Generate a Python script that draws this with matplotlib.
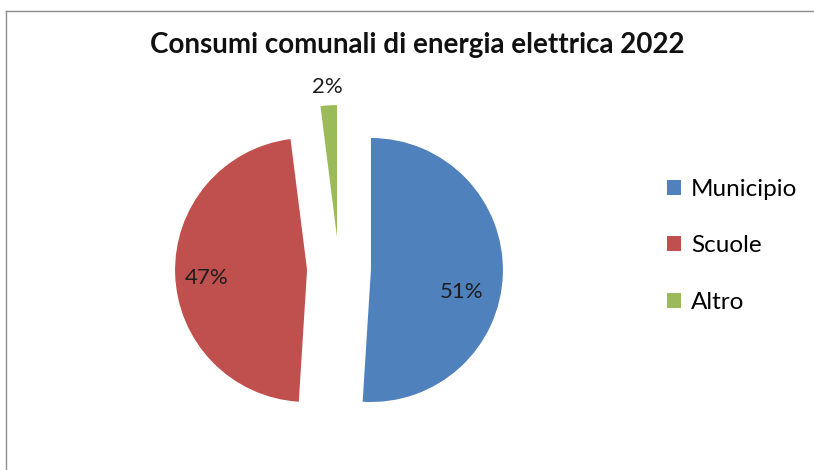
import numpy as np
import matplotlib.pyplot as plt
from matplotlib.lines import Line2D
from matplotlib.patches import Patch

# dati
labels = ["Municipio", "Scuole", "Altro"]
values = [51, 47, 2]
colors = ["#4F81BD", "#C0504D", "#9BBB59"]
explode = [0.242, 0.242, 0.242]

# posizione delle etichette: (frazione del raggio, spostamento angolare in gradi)
label_pos = [(0.71, -12), (0.76, 3), (1.14, 0)]

plt.rcParams['font.family'] = ['Lato', 'DejaVu Sans']

fig = plt.figure(figsize=(8.14, 4.70), dpi=100)
R = 132  # raggio in pixel
ax = fig.add_axes([(339 - 1.25 * R) / 814, (201 - 1.25 * R) / 470,
                   2.5 * R / 814, 2.5 * R / 470])

wedges, _ = ax.pie(values, colors=colors, explode=explode, startangle=90,
                   counterclock=False, radius=1.0)
ax.set_xlim(-1.25, 1.25)
ax.set_ylim(-1.25, 1.25)
ax.set_aspect('equal')
ax.axis('off')

for w, v, (frac, shift) in zip(wedges, values, label_pos):
    mid = np.deg2rad((w.theta1 + w.theta2) / 2 + shift)
    cx, cy = w.center
    ax.text(cx + frac * np.cos(mid), cy + frac * np.sin(mid), f"{v}%",
            ha='center', va='center', fontsize=16, color='#1e1e1e')

fig.text(0.513, 0.905, "Consumi comunali di energia elettrica 2022",
         ha='center', va='center', fontsize=20, fontweight='bold', color='#111111')

handles = [Patch(facecolor=c, edgecolor='none') for c in colors]
fig.legend(handles, labels, loc='center left', bbox_to_anchor=(0.792, 0.477),
           frameon=False, fontsize=17.5, handlelength=0.6, handleheight=0.6,
           handletextpad=0.4, labelspacing=1.46)

# cornice (solo lato sinistro e superiore visibili)
y_top = 1 - 10.5 / 470
x_left = 5.5 / 814
fig.add_artist(Line2D([x_left, 1], [y_top, y_top], transform=fig.transFigure,
                      color='#8c8c8c', linewidth=1))
fig.add_artist(Line2D([x_left, x_left], [0, y_top], transform=fig.transFigure,
                      color='#8c8c8c', linewidth=1))

fig.savefig("out.png", dpi=100, facecolor='white')
